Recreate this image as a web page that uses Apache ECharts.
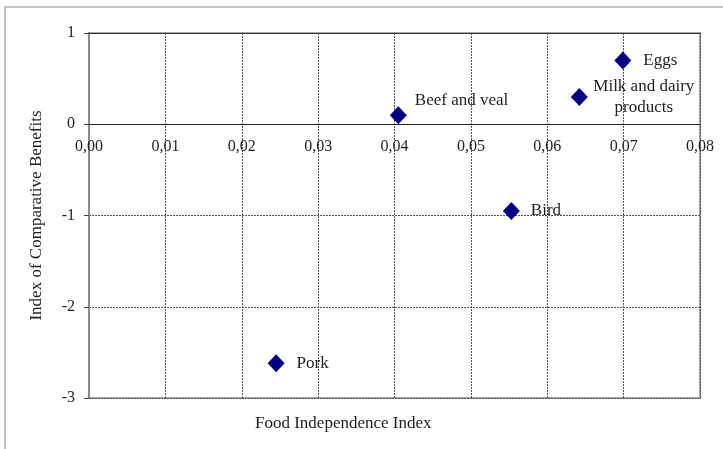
<!DOCTYPE html>
<html>
<head>
<meta charset="utf-8">
<script src="https://cdn.jsdelivr.net/npm/echarts@6/dist/echarts.min.js"></script>
<style>
  html, body { margin: 0; padding: 0; background: #fff; }
  #chart { width: 723px; height: 449px; }
</style>
</head>
<body>
<div id="chart"></div>
<script>
// values
const products = ['Beef and veal', 'Milk and dairy products', 'Eggs', 'Bird', 'Pork'];
const pointLabels = ['Beef and veal', 'Milk and dairy\nproducts', 'Eggs', 'Bird', 'Pork'];
const foodIndependence = [0.0405, 0.0642, 0.0699, 0.0553, 0.0245];
const comparativeBenefits = [0.10, 0.30, 0.70, -0.95, -2.62];

const FONT = '"Liberation Serif", "Times New Roman", serif';
const TEXT = '#1e1e1e';

// small per-label placement tweaks (keyed by product)
const labelTweaks = {
  'Beef and veal': { distance: 8, offset: [0, -15] },
  'Milk and dairy products': { distance: 56, align: 'center', lineHeight: 21 },
  'Eggs': { distance: 12 },
  'Bird': { distance: 11 },
  'Pork': { distance: 12 }
};

const points = products.map((name, i) => ({
  name,
  value: [foodIndependence[i], comparativeBenefits[i]],
  label: Object.assign({ formatter: pointLabels[i] }, labelTweaks[name])
}));

const comma = v => v.toFixed(2).replace('.', ',');

const chart = echarts.init(document.getElementById('chart'), null, { renderer: 'canvas' });

// grid spans y = 1 .. -3, the x axis has to sit on the zero line
const gridTop = 33, gridBottom = 51;
const plotH = 449 - gridTop - gridBottom;
const zeroShift = -plotH * 3 / 4;

chart.setOption({
  animation: false,
  textStyle: { fontFamily: FONT, color: TEXT },
  grid: {
    left: 89, right: 23, top: gridTop, bottom: gridBottom,
    show: true, borderColor: '#a6a6a6', borderWidth: 2
  },
  graphic: [
    {
      type: 'rect', silent: true,
      shape: { x: 5, y: 7, width: 740, height: 470 },
      style: { fill: 'none', stroke: '#c4c4c4', lineWidth: 2 }
    },
    {
      type: 'text', left: 255, top: 415,
      style: { text: 'Food Independence Index', font: '17px ' + FONT, fill: TEXT }
    }
  ],
  xAxis: [
    {
      type: 'value', min: 0, max: 0.08, interval: 0.01,
      position: 'bottom', offset: zeroShift,
      axisLine: { onZero: false, lineStyle: { color: '#222', width: 1 } },
      axisTick: { show: false },
      axisLabel: { formatter: comma, margin: 15, fontSize: 16, color: TEXT, fontFamily: FONT },
      splitLine: { show: true, lineStyle: { type: [2, 1], color: '#555', width: 1 } }
    },
    {
      type: 'value', position: 'top', min: 0, max: 0.08,
      axisLine: { onZero: false, lineStyle: { color: '#333', width: 1 } },
      axisTick: { show: false }, axisLabel: { show: false }, splitLine: { show: false }
    }
  ],
  yAxis: {
    type: 'value', min: -3, max: 1, interval: 1,
    name: 'Index of Comparative Benefits',
    nameLocation: 'middle', nameGap: 44,
    nameTextStyle: { fontSize: 17, color: TEXT, fontFamily: FONT },
    axisLine: { show: true, onZero: false, lineStyle: { color: '#8c8c8c', width: 2 } },
    axisTick: { show: true, length: 5, lineStyle: { color: '#444' } },
    axisLabel: { margin: 14, fontSize: 16, color: TEXT, fontFamily: FONT },
    splitLine: { show: true, lineStyle: { type: [2, 1], color: '#555', width: 1 } }
  },
  series: [{
    type: 'scatter',
    symbol: 'diamond',
    symbolSize: [17, 18],
    itemStyle: { color: '#000080', opacity: 1 },
    label: {
      show: true, position: 'right',
      fontSize: 17, color: TEXT, fontFamily: FONT
    },
    data: points
  }]
});
</script>
</body>
</html>
